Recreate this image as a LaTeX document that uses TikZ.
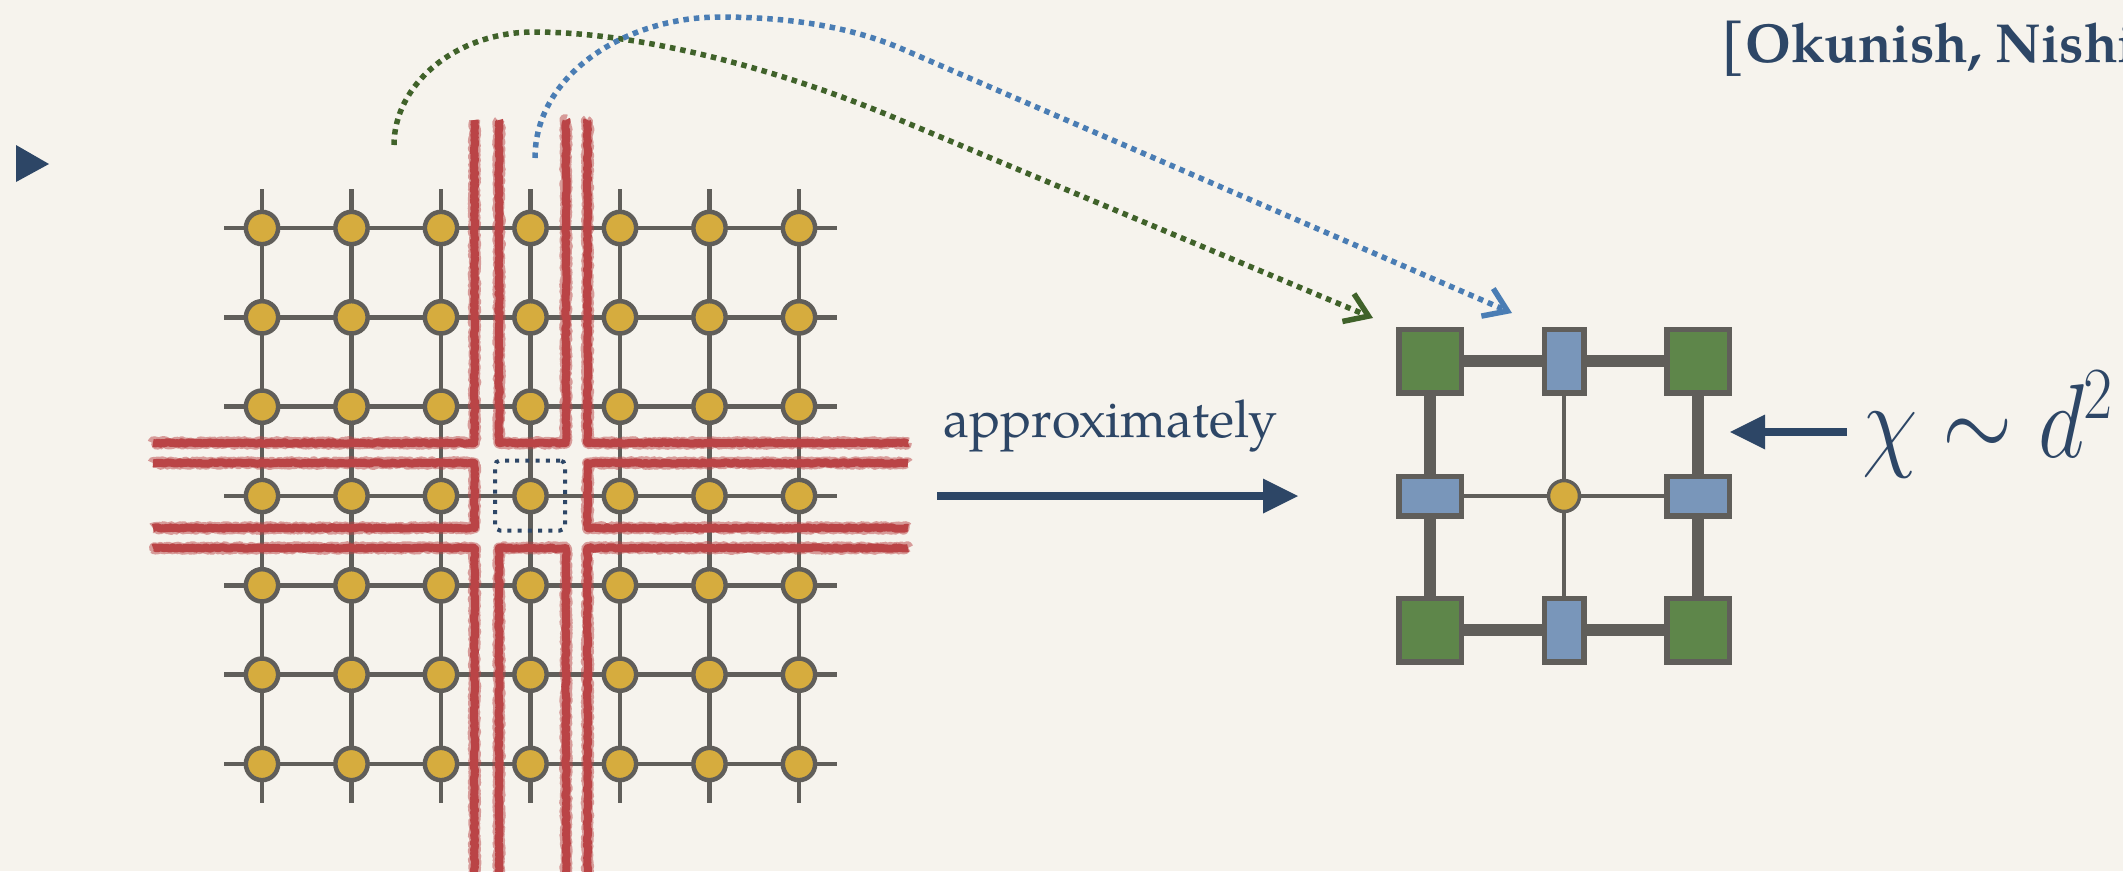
\RequirePackage{fix-cm}
\documentclass[tikz,border=0pt]{standalone}
\usepackage{fontspec}
\usetikzlibrary{arrows.meta,decorations.pathmorphing}

\definecolor{paper}{RGB}{246,243,237}
\definecolor{bondgray}{RGB}{96,94,90}
\definecolor{sitegold}{RGB}{214,172,62}
\definecolor{crayon}{RGB}{186,68,70}
\definecolor{navy}{RGB}{45,70,102}
\definecolor{ctmgreen}{RGB}{94,134,74}
\definecolor{edgeblue}{RGB}{121,150,186}
\definecolor{curvegreen}{RGB}{64,98,42}
\definecolor{curveblue}{RGB}{74,125,180}

% Palatino-style face for the text labels
\newfontfamily\palfont{TeX Gyre Pagella}

\begin{document}
\begin{tikzpicture}[x=1pt,y=-1pt,
  site/.style={circle, draw=bondgray, fill=sitegold, line width=4.5pt,
    minimum size=32.3pt, inner sep=0pt},
  smallsite/.style={circle, draw=bondgray, fill=sitegold, line width=3.5pt,
    minimum size=31pt, inner sep=0pt},
  bond/.style={draw=bondgray, line width=4.5pt},
  thickbond/.style={draw=bondgray, line width=12pt},
  thinbond/.style={draw=bondgray, line width=3.5pt},
  cornerbox/.style={rectangle, draw=bondgray, fill=ctmgreen, line width=5.5pt,
    minimum width=62.5pt, minimum height=63.5pt, inner sep=0pt},
  vedgebox/.style={rectangle, draw=bondgray, fill=edgeblue, line width=5.5pt,
    minimum width=39.5pt, minimum height=63.5pt, inner sep=0pt},
  hedgebox/.style={rectangle, draw=bondgray, fill=edgeblue, line width=5.5pt,
    minimum width=62.5pt, minimum height=39.5pt, inner sep=0pt},
  crayonedge/.style={draw=crayon, opacity=0.5, line width=11pt, line join=round,
    decorate, decoration={random steps, segment length=1.4pt, amplitude=1.4pt}},
  crayonline/.style={draw=crayon, line width=8pt, line join=round,
    decorate, decoration={random steps, segment length=2.2pt, amplitude=0.8pt}},
  dotcurve/.style={line width=5.5pt, dash pattern=on 5.5pt off 5pt,
    -{Straight Barb[length=22pt, width=30pt]}},
  bigarrow/.style={draw=navy, line width=8pt,
    -{Triangle[length=35pt, width=35pt, line width=0pt]}},
]
\pgfmathsetseed{11}
\useasboundingbox (0,0) rectangle (2123,871);
\fill[paper] (0,0) rectangle (2123,871);

% bullet
\fill[navy] (16,145) -- (16,182) -- (49,164) -- cycle;

% square lattice: bonds first, then sites on top
\foreach \j in {0,...,6} {
  \coordinate (hl-\j) at (224,{228+89.33*\j});
  \coordinate (hr-\j) at (837,{228+89.33*\j});
  \draw[bond] (hl-\j) -- (hr-\j);
}
\foreach \i in {0,...,6} {
  \coordinate (vt-\i) at ({262+89.5*\i},189);
  \coordinate (vb-\i) at ({262+89.5*\i},803);
  \draw[bond] (vt-\i) -- (vb-\i);
}
\foreach \i in {0,...,6} \foreach \j in {0,...,6}
  \node[site] (s-\i-\j) at ({262+89.5*\i},{228+89.33*\j}) {};

% crayon boundaries around the central row and column
\foreach \sty in {crayonedge,crayonline} {
  \draw[\sty] (474.5,120) -- (474.5,443) -- (153,443);
  \draw[\sty] (587.5,120) -- (587.5,443) -- (908,443);
  \draw[\sty] (153,548) -- (474.5,548) -- (474.5,875);
  \draw[\sty] (908,548) -- (587.5,548) -- (587.5,875);
  \draw[\sty] (499,120) -- (499,443) -- (566,443) -- (566,120);
  \draw[\sty] (499,875) -- (499,548) -- (566,548) -- (566,875);
  \draw[\sty] (153,463) -- (474.5,463) -- (474.5,528) -- (153,528);
  \draw[\sty] (908,463) -- (587.5,463) -- (587.5,528) -- (908,528);
}

% the marked central site
\node[draw=navy, line width=4pt, dash pattern=on 4pt off 6.2pt, rounded corners=5pt,
  minimum size=70pt, inner sep=0pt] (focus) at (530,495.5) {};

% coarse-grained network
\node[cornerbox] (c-tl) at (1430,361) {};
\node[cornerbox] (c-tr) at (1698,361) {};
\node[cornerbox] (c-bl) at (1430,630) {};
\node[cornerbox] (c-br) at (1698,630) {};
\node[vedgebox] (e-t) at (1564,361) {};
\node[vedgebox] (e-b) at (1564,630) {};
\node[hedgebox] (e-l) at (1430,496) {};
\node[hedgebox] (e-r) at (1698,496) {};
\node[smallsite] (ctr) at (1564,496) {};
\draw[thickbond] (c-tl) -- (e-t) -- (c-tr);
\draw[thickbond] (c-bl) -- (e-b) -- (c-br);
\draw[thickbond] (c-tl) -- (e-l) -- (c-bl);
\draw[thickbond] (c-tr) -- (e-r) -- (c-br);
\draw[thinbond] (e-l) -- (ctr) -- (e-r);
\draw[thinbond] (e-t) -- (ctr) -- (e-b);

% dotted correspondence curves
\coordinate (gsrc) at (394,145);
\coordinate (gtip) at (1373,318);
\coordinate (bsrc) at (535,158);
\coordinate (btip) at (1512,313);
\draw[dotcurve, draw=curvegreen] (gsrc) .. controls (394,85) and (455,32) .. (534,32)
  .. controls (640,32) and (780,69) .. (900,120) -- (gtip);
\draw[dotcurve, draw=curveblue] (bsrc) .. controls (535,75) and (625,17) .. (720,17)
  .. controls (790,17) and (850,27) .. (900,48) -- (btip);

% approximation arrow
\coordinate (apx-from) at (937,496);
\coordinate (apx-to) at (1298,496);
\draw[bigarrow] (apx-from) -- (apx-to);
\node[anchor=base west, inner sep=0pt, text=navy,
  font={\palfont\fontsize{52}{54}\selectfont}] (apx) at (943,437) {approximately};

% bond dimension
\coordinate (chi-from) at (1847,432);
\coordinate (chi-to) at (1730,432);
\draw[bigarrow] (chi-from) -- (chi-to);
\node[anchor=base west, inner sep=0pt, text=navy,
  font={\fontsize{105}{110}\selectfont}] (chi) at (1862,457)
  {\scalebox{0.86}[1]{$\chi\sim d^2$}};

% reference
\node[anchor=base west, inner sep=0pt, text=navy,
  font={\palfont\bfseries\fontsize{55}{58}\selectfont}] (cite) at (1720,62) {[Okunish, Nishi};
\end{tikzpicture}
\end{document}
